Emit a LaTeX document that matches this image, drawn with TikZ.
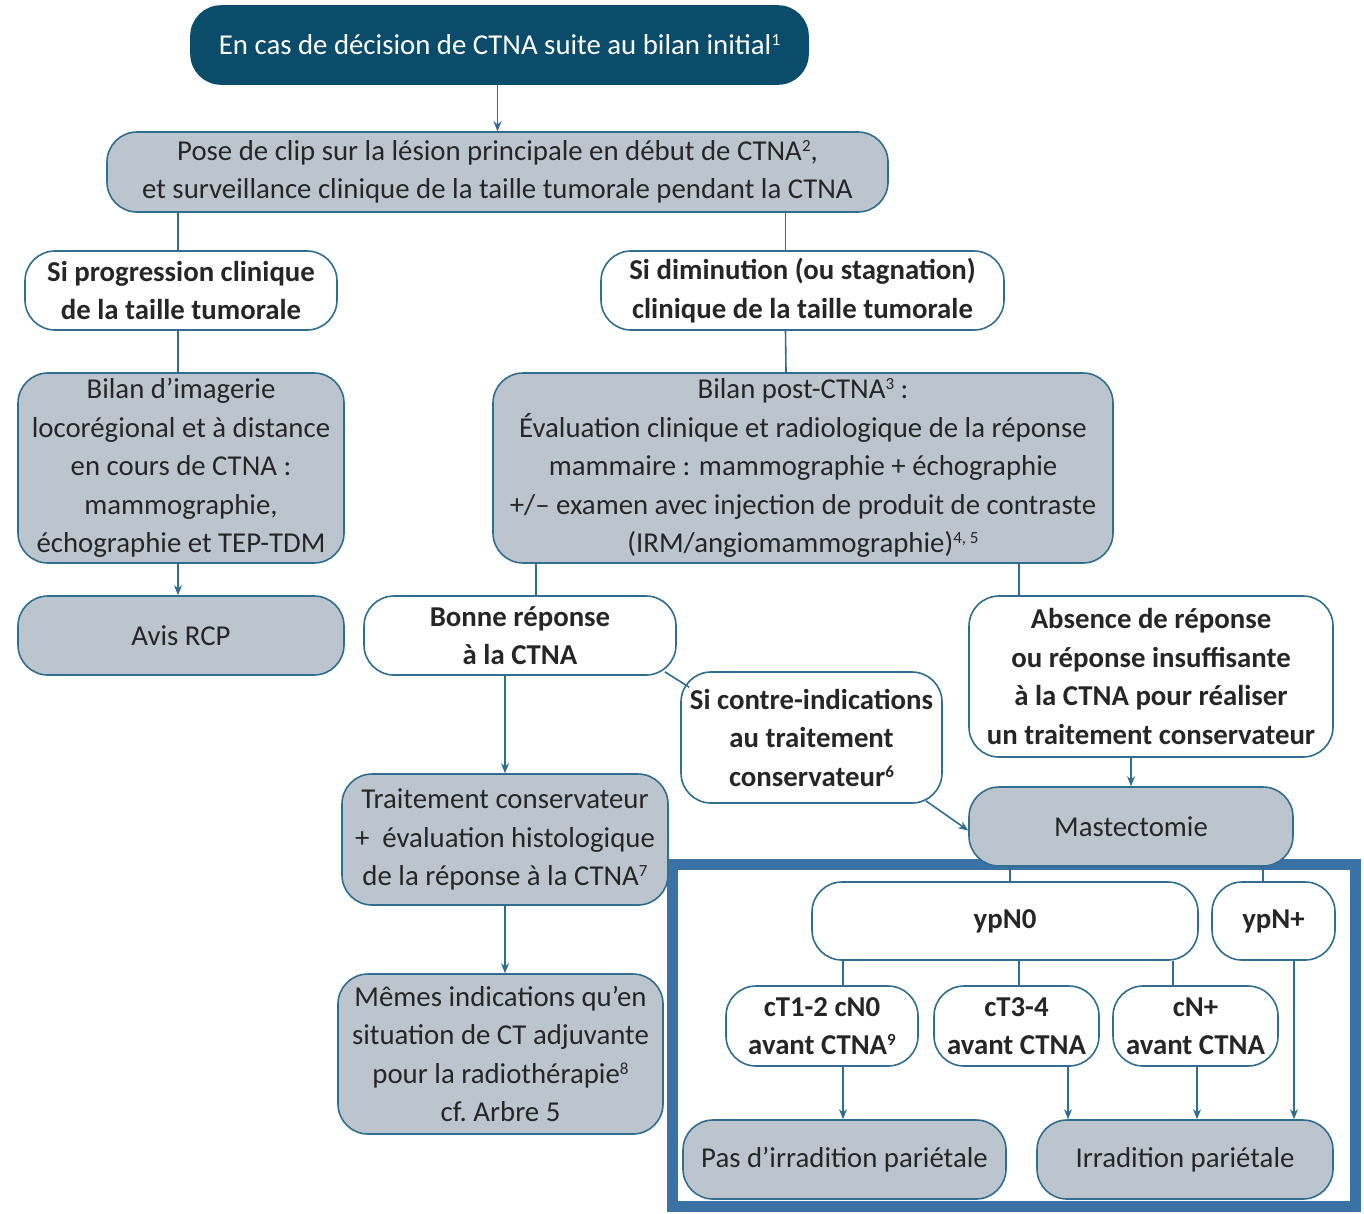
\documentclass[tikz,border=0pt]{standalone}
\usepackage{fontspec}
\setmainfont{Carlito}
\usetikzlibrary{arrows.meta}

\definecolor{ctnadark}{HTML}{0B4C6B}
\definecolor{ctnagray}{HTML}{BCC5CE}
\definecolor{ctnaline}{HTML}{2F6E8E}
\definecolor{ctnaframe}{HTML}{3A72A6}
\definecolor{ctnatext}{HTML}{262626}

\newcommand{\renvoi}[1]{\raisebox{9pt}{\fontsize{17}{17}\selectfont #1}}

\tikzset{
    box/.style 2 args={
      draw=ctnaline, line width=1.6pt, rounded corners=30pt,
      align=center, inner sep=0pt, text=ctnatext,
      minimum width=#1, minimum height=#2,
      font=\fontsize{28.8}{38.5}\selectfont
    },
    greybox/.style 2 args={box={#1}{#2}, fill=ctnagray},
    choice/.style 2 args={box={#1}{#2}, fill=white,
      font=\fontsize{28.8}{38.5}\selectfont\bfseries},
    link/.style={draw=ctnaline, line width=1.6pt}
  }

\begin{document}
\begin{tikzpicture}[x=1pt, y=-1pt, >={Stealth[length=10pt,width=8pt]}]
    \useasboundingbox (0,0) rectangle (1364,1213);

    % cadre post-mastectomie
    \draw[ctnaframe, line width=11pt] (672,864) rectangle (1355,1206);

    \node[box={617pt}{78pt}, fill=ctnadark, draw=ctnadark, text=white] (start) at (499.5,45)
      {En cas de décision de CTNA suite au bilan initial\renvoi{1}};
    \node[greybox={781pt}{80pt}] (clip) at (497.5,172)
      {Pose de clip sur la lésion principale en début de CTNA\renvoi{2},\\
       et surveillance clinique de la taille tumorale pendant la CTNA};

    \node[choice={312pt}{79pt}] (prog) at (181,290.5)
      {Si progression clinique\\ de la taille tumorale};
    \node[choice={403pt}{79pt}] (dimin) at (802.5,290.5)
      {Si diminution (ou stagnation)\\ clinique de la taille tumorale};

    \node[greybox={326pt}{190pt}] (imagerie) at (181,468)
      {Bilan d’imagerie\\ locorégional et à distance\\ en cours de CTNA :\\
       mammographie,\\ échographie et TEP-TDM};
    \node[greybox={620pt}{190pt}] (post) at (803,468)
      {Bilan post-CTNA\renvoi{3} :\\
       Évaluation clinique et radiologique de la réponse\\
       mammaire : mammographie + échographie\\
       +/– examen avec injection de produit de contraste\\
       (IRM/angiomammographie)\renvoi{4, 5}};

    \node[greybox={326pt}{79pt}] (rcp) at (181,635.5) {Avis RCP};
    \node[choice={312pt}{79pt}] (bonne) at (520,635.5) {Bonne réponse\\ à la CTNA};
    \node[choice={364pt}{161pt}] (absence) at (1151,676.5)
      {Absence de réponse\\ ou réponse insuffisante\\ à la CTNA pour réaliser\\
       un traitement conservateur};
    \node[choice={261pt}{131pt}] (contre) at (811.5,737.5)
      {Si contre-indications\\ au traitement\\ conservateur\renvoi{6}};

    \node[greybox={326pt}{131pt}] (conserv) at (505,839.5)
      {Traitement conservateur\\ +\ \ évaluation histologique\\
       de la réponse à la CTNA\renvoi{7}};
    \node[greybox={324pt}{79pt}] (mast) at (1131,826.5) {Mastectomie};
    \node[greybox={325pt}{160pt}] (memes) at (500.5,1054)
      {Mêmes indications qu’en\\ situation de CT adjuvante\\
       pour la radiothérapie\renvoi{8}\\ cf.\ Arbre 5};

    \node[choice={386pt}{78pt}] (ypn0) at (1005,921) {ypN0};
    \node[choice={123pt}{78pt}] (ypnp) at (1273.5,921) {ypN+};

    \node[choice={192pt}{80pt}] (ct12) at (822,1026)
      {cT1-2 cN0\\ avant CTNA\renvoi{9}};
    \node[choice={165pt}{80pt}] (ct34) at (1016.5,1026)
      {cT3-4\\ avant CTNA};
    \node[choice={165pt}{80pt}] (cnp) at (1195.5,1026)
      {cN+\\ avant CTNA};

    \node[greybox={323pt}{79pt}] (pasirr) at (844.5,1159.5) {Pas d’irradition pariétale};
    \node[greybox={296pt}{79pt}] (irr) at (1185,1159.5) {Irradition pariétale};

    % liaisons
    \draw[link, ->] (start.south -| clip.north) -- (clip.north);
    \draw[link] ([xshift=-3]prog.north |- clip.south) -- ([xshift=-3]prog.north);
    \draw[link] ([xshift=-17]dimin.north |- clip.south) -- ([xshift=-17]dimin.north);
    \draw[link] ([xshift=-3]prog.south) -- ([xshift=-3]imagerie.north);
    \draw[link] ([xshift=-17]dimin.south) -- ([xshift=-17]post.north);
    \draw[link, ->] ([xshift=-3]imagerie.south) -- ([xshift=-3]rcp.north);
    \draw[link] ([xshift=16]bonne.north |- post.south) -- ([xshift=16]bonne.north);
    \draw[link] ([xshift=-132]absence.north |- post.south) -- ([xshift=-132]absence.north);
    \draw[link] ([shift={(-12,-4)}]bonne.south east) -- ([shift={(9,16)}]contre.north west);
    \draw[link, ->] (bonne.south -| conserv.north) -- (conserv.north);
    \draw[link, ->] (conserv.south) -- (conserv.south |- memes.north);
    \draw[link, ->] ([shift={(-17,-3)}]contre.south east) -- ([yshift=-4]mast.west);
    \draw[link, ->] (absence.south -| mast.north) -- (mast.north);

    \draw[link] ([xshift=-121]mast.south) -- ([xshift=5]ypn0.north);
    \draw[link] ([xshift=132]mast.south) -- ([xshift=-10.5]ypnp.north);
    \draw[link] ([xshift=21]ct12.north |- ypn0.south) -- ([xshift=21]ct12.north);
    \draw[link] ([xshift=2.5]ct34.north |- ypn0.south) -- ([xshift=2.5]ct34.north);
    \draw[link] ([xshift=-22.5]cnp.north |- ypn0.south) -- ([xshift=-22.5]cnp.north);

    \draw[link, ->] ([xshift=21]ct12.south) -- ([xshift=21]ct12.south |- pasirr.north);
    \draw[link, ->] ([xshift=51.5]ct34.south) -- ([xshift=51.5]ct34.south |- irr.north);
    \draw[link, ->] ([xshift=1.5]cnp.south) -- ([xshift=1.5]cnp.south |- irr.north);
    \draw[link, ->] ([xshift=20.5]ypnp.south) -- ([xshift=20.5]ypnp.south |- irr.north);

  \end{tikzpicture}
\end{document}
